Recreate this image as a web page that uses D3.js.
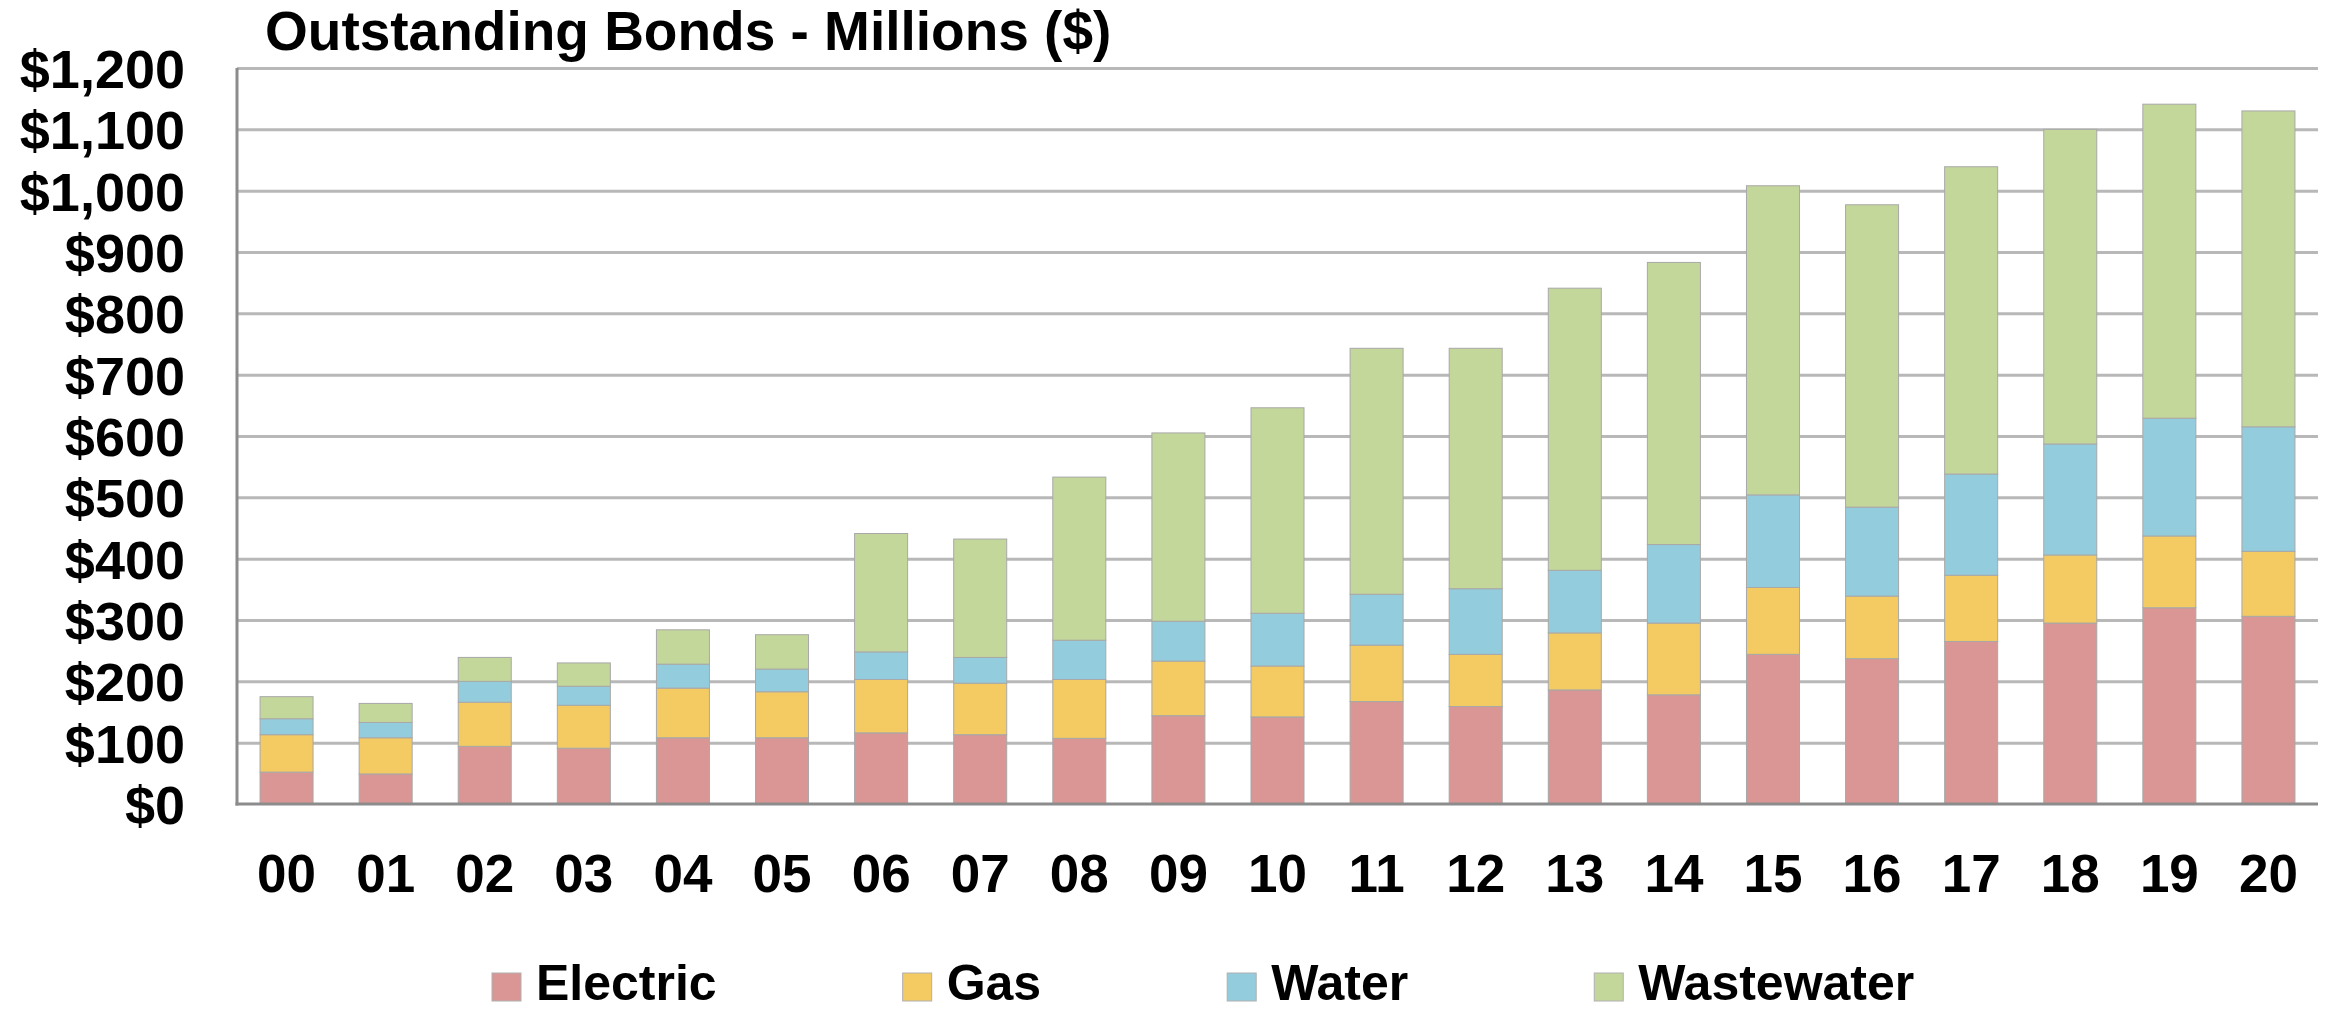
<!DOCTYPE html>
<html>
<head>
<meta charset="utf-8">
<script src="https://cdn.jsdelivr.net/npm/d3@7"></script>
<style>
  html, body { margin: 0; padding: 0; background: #ffffff; }
  svg { display: block; }
  text { font-family: "Liberation Sans", Arial, sans-serif; font-weight: bold; fill: #000; }
</style>
</head>
<body>
<svg id="chart" width="2333" height="1012"></svg>
<script>
const years = ["00","01","02","03","04","05","06","07","08","09","10","11","12","13","14","15","16","17","18","19","20"];
const electric   = [52, 49, 94, 91, 108, 108, 116, 113, 107, 144, 142, 167, 159, 186, 178, 244, 237, 265, 295, 320, 306];
const gas        = [61, 59, 72, 70, 81, 75, 87, 84, 96, 89, 83, 92, 85, 93, 117, 109, 102, 108, 111, 117, 106];
const water      = [26, 25, 34, 31, 39, 37, 45, 42, 64, 65, 86, 83, 107, 102, 128, 151, 145, 165, 181, 192, 203];
const wastewater = [36, 31, 39, 38, 56, 56, 193, 193, 266, 307, 335, 401, 392, 460, 460, 504, 493, 501, 513, 512, 515];
const seriesNames = ["Electric", "Gas", "Water", "Wastewater"];
const seriesColors = ["#D99694", "#F4CA62", "#93CDDD", "#C4D79B"];
const yTicks = [0, 100, 200, 300, 400, 500, 600, 700, 800, 900, 1000, 1100, 1200];
const titleText = "Outstanding Bonds - Millions ($)";

const svg = d3.select("#chart");
const margin = { left: 237, right: 15, top: 68, bottom: 208 };
const W = 2333, H = 1012;
const plotW = W - margin.left - margin.right;
const plotH = H - margin.top - margin.bottom;

const table = years.map((y, i) => ({
  year: y, Electric: electric[i], Gas: gas[i], Water: water[i], Wastewater: wastewater[i]
}));

const x = d3.scaleBand().domain(years).range([0, plotW]).paddingInner(0.465).paddingOuter(0.2325);
const yS = d3.scaleLinear().domain([0, 1200]).range([plotH, 0]);
const color = d3.scaleOrdinal().domain(seriesNames).range(seriesColors);

const g = svg.append("g").attr("transform", `translate(${margin.left},${margin.top})`);

// gridlines
const grid = g.append("g")
  .call(d3.axisLeft(yS).tickValues(yTicks.filter(d => d > 0)).tickSize(-plotW).tickFormat(""));
grid.select(".domain").remove();
grid.selectAll(".tick line").attr("stroke", "#b8b8b8").attr("stroke-width", 3);

// stacked bars
const stack = d3.stack().keys(seriesNames)(table);
g.append("g").selectAll("g.series")
  .data(stack)
  .join("g")
  .attr("class", "series")
  .attr("fill", d => color(d.key))
  .selectAll("rect")
  .data(d => d)
  .join("rect")
  .attr("x", d => x(d.data.year))
  .attr("width", x.bandwidth())
  .attr("y", d => yS(d[1]))
  .attr("height", d => yS(d[0]) - yS(d[1]))
  .attr("stroke", "#a8a8a8")
  .attr("stroke-width", 1);

// y axis labels
const yAxis = g.append("g")
  .call(d3.axisLeft(yS).tickValues(yTicks).tickSize(0).tickPadding(52)
    .tickFormat(d => "$" + d3.format(",")(d)));
yAxis.select(".domain").remove();
yAxis.selectAll("text").style("font-size", "54px").attr("dy", "0.36em");

// left axis line
g.append("line").attr("x1", 0).attr("x2", 0).attr("y1", 0).attr("y2", plotH + 1.5)
  .attr("stroke", "#8c8c8c").attr("stroke-width", 3);

// x axis
const xAxis = g.append("g").attr("transform", `translate(0,${plotH})`)
  .call(d3.axisBottom(x).tickSize(0).tickPadding(50));
xAxis.select(".domain").remove();
xAxis.selectAll("text").style("font-size", "53px");
g.append("line").attr("x1", -1.5).attr("x2", plotW).attr("y1", plotH).attr("y2", plotH)
  .attr("stroke", "#8c8c8c").attr("stroke-width", 3);

// title
svg.append("text").attr("x", 265).attr("y", 50).style("font-size", "55px").text(titleText);

// legend
const legend = svg.append("g");
let lx = 492;
seriesNames.forEach((name, i) => {
  legend.append("rect").attr("x", lx).attr("y", 973).attr("width", 29).attr("height", 28)
    .attr("fill", seriesColors[i]).attr("stroke", "#b0b0b0").attr("stroke-width", 1);
  const t = legend.append("text").attr("x", lx + 44).attr("y", 1000)
    .style("font-size", "50px").text(name);
  const w = t.node().getComputedTextLength();
  lx = lx + 44 + w + 186;
});
</script>
</body>
</html>
